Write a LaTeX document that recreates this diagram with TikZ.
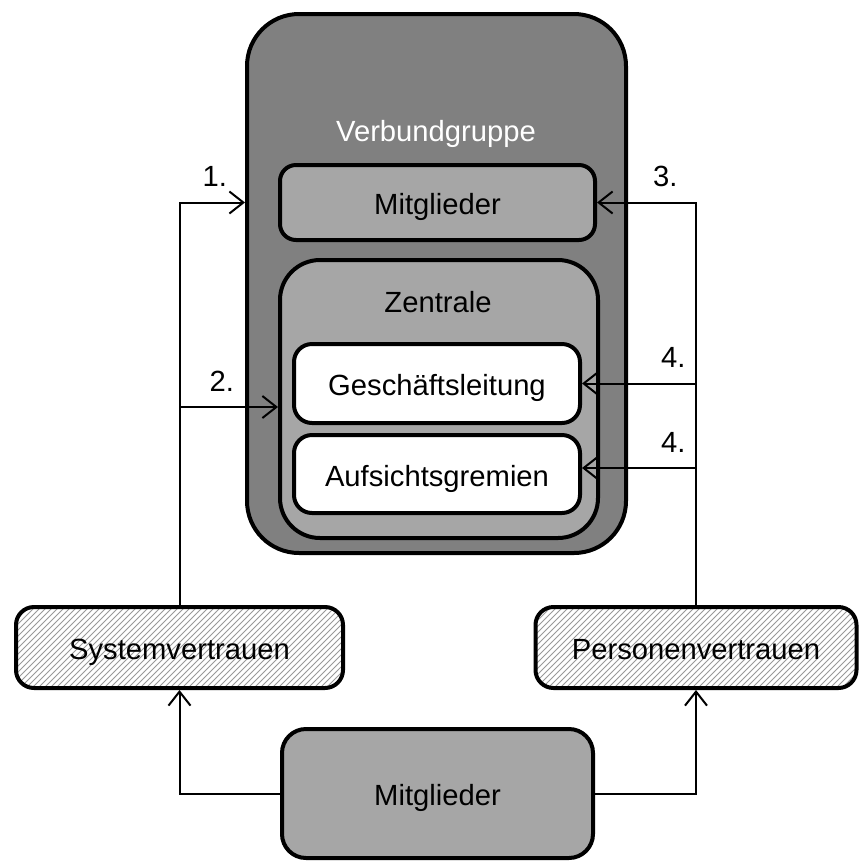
\documentclass[tikz,border=0pt]{standalone}
\usepackage{fontspec}
\setmainfont{Liberation Sans}
\usetikzlibrary{positioning}
\usetikzlibrary{arrows.meta}
\usetikzlibrary{patterns}

\begin{document}
\begin{tikzpicture}[x=0.5pt,y=-0.5pt,
        font=\fontsize{14.6}{17}\selectfont,
        box/.style={draw, line width=2pt, inner sep=0pt, text height=12pt, text depth=0pt},
        conn/.style={line width=1pt, -{Straight Barb[length=7pt,width=11pt,line width=1pt]}},
        hatch/.style={pattern=north east lines, pattern color=black!40}]
            \useasboundingbox (0,0) rectangle (860,864);
            % Verbundgruppe with its parts
            \node[box, fill=black!50, rounded corners=26pt, minimum width=189.5pt, minimum height=269.5pt] (verb) at (436.5,283.5) {};
            \node[text=white] (verblabel) at (436,134) {Verbundgruppe};
            \node[box, fill=black!35, rounded corners=8pt, minimum width=157.5pt, minimum height=37.5pt] (mit1) at (437.5,202.5) {Mitglieder};
            \node[box, fill=black!35, rounded corners=20pt, minimum width=159pt, minimum height=139pt] (zen) at (439,399) {};
            \node (zenlabel) at (438,302) {Zentrale};
            \node[box, fill=white, rounded corners=9pt, minimum width=143pt, minimum height=39.5pt] (gl) at (437,383.5) {Gesch\"aftsleitung};
            \node[box, fill=white, rounded corners=9pt, minimum width=143pt, minimum height=39pt] (ar) at (437,474) {Aufsichtsgremien};
            
            % Vertrauen
            \node[box, hatch, rounded corners=9pt, minimum width=163.5pt, minimum height=40.5pt] (sys) at (179.5,647.5) {Systemvertrauen};
            \node[box, hatch, rounded corners=9pt, minimum width=160.5pt, minimum height=40.5pt] (pers) at (696,647.5) {Personenvertrauen};
            \node[box, fill=black!35, rounded corners=12pt, minimum width=155.5pt, minimum height=64.5pt] (mit2) at (437.5,793.5) {Mitglieder};
            
            \coordinate (z2) at ([yshift=-4pt]zen.west);
            \coordinate (a2) at ([yshift=3pt]ar.east);
            
            \draw[conn] (sys.north) |- node[pos=0.77, above=4pt] (n1) {1.} (verb.west |- mit1.west);
            \draw[conn] (sys.north |- z2) -- node[pos=0.43, above=4pt] (n2) {2.} (z2);
            \draw[conn] (pers.north) |- node[pos=0.655, above=4pt] (n3) {3.} (mit1.east);
            \draw[conn] (pers.north |- gl.east) -- node[pos=0.2, above=4pt] (n4a) {4.} (gl.east);
            \draw[conn] (pers.north |- a2) -- node[pos=0.2, above=4pt] (n4b) {4.} (a2);
            \draw[conn] (mit2.west) -| (sys.south);
            \draw[conn] (mit2.east) -| (pers.south);
        \end{tikzpicture}
\end{document}
